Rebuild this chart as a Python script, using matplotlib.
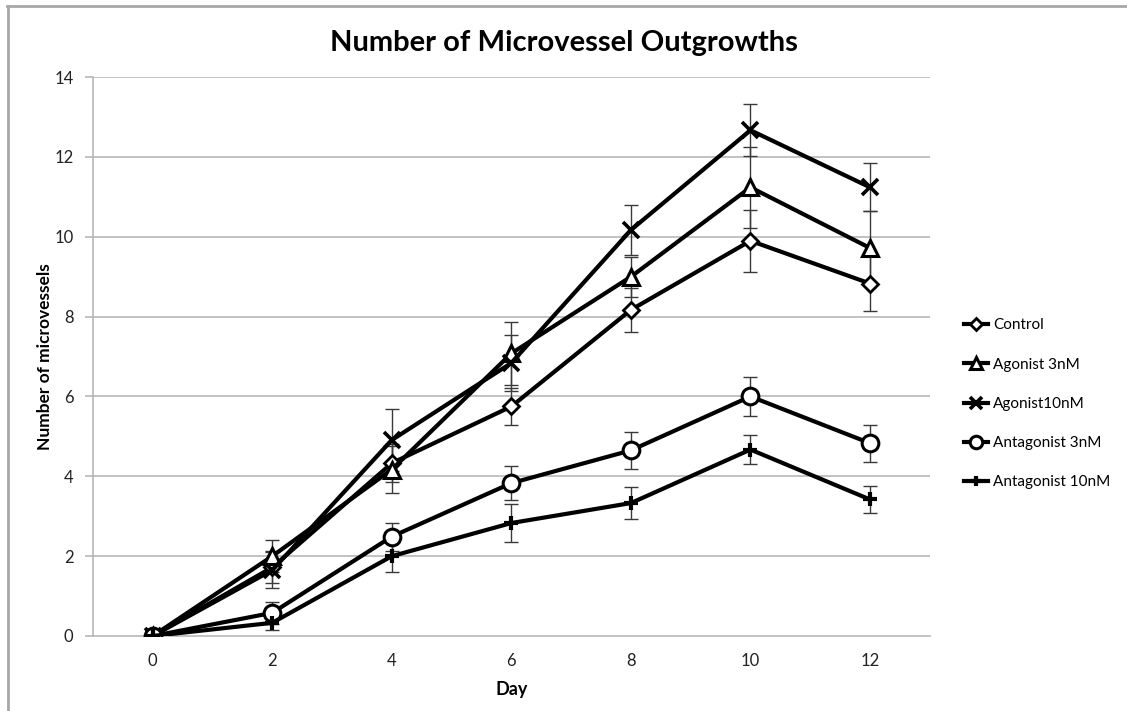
import matplotlib
matplotlib.use('Agg')
import matplotlib.pyplot as plt
from matplotlib.lines import Line2D
import numpy as np

plt.rcParams['font.family'] = ['Lato', 'DejaVu Sans']

days = [0, 2, 4, 6, 8, 10, 12]

control = [0, 1.72, 4.33, 5.75, 8.17, 9.90, 8.83]
control_err = [0, 0.40, 0.47, 0.46, 0.56, 0.77, 0.70]

agonist_3 = [0, 2.00, 4.17, 7.08, 9.00, 11.24, 9.72]
agonist_3_err = [0, 0.40, 0.58, 0.78, 0.50, 1.02, 0.92]

agonist_10 = [0, 1.65, 4.91, 6.84, 10.17, 12.67, 11.24]
agonist_10_err = [0, 0.45, 0.78, 0.70, 0.62, 0.65, 0.60]

antagonist_3 = [0, 0.58, 2.49, 3.83, 4.65, 6.00, 4.83]
antagonist_3_err = [0, 0.27, 0.35, 0.43, 0.47, 0.50, 0.46]

antagonist_10 = [0, 0.33, 2.00, 2.83, 3.33, 4.67, 3.42]
antagonist_10_err = [0, 0.18, 0.40, 0.47, 0.41, 0.36, 0.33]

series = [
    ('Control', control, control_err, 'D', 8, 2.0),
    ('Agonist 3nM', agonist_3, agonist_3_err, '^', 12, 2.2),
    ('Agonist10nM', agonist_10, agonist_10_err, 'x', 11, 2.6),
    ('Antagonist 3nM', antagonist_3, antagonist_3_err, 'o', 12, 2.2),
    ('Antagonist 10nM', antagonist_10, antagonist_10_err, '+', 10, 3.0),
]

fig = plt.figure(figsize=(11.27, 7.11), dpi=100)
ax = fig.add_axes([0.0825, 0.1055, 0.7425, 0.786])

grid_col = '#b8b8b8'
for y in range(2, 15, 2):
    ax.axhline(y, color=grid_col, lw=1.2, zorder=0)

handles = []
for name, vals, err, mk, ms, mew in series:
    ax.errorbar(days, vals, yerr=err, fmt='none', ecolor='#3a3a3a',
                elinewidth=1.0, capsize=5, capthick=1.0, zorder=2)
    line, = ax.plot(days, vals, color='black', lw=3.0, marker=mk,
                    markersize=ms, markerfacecolor='white',
                    markeredgecolor='black', markeredgewidth=mew,
                    label=name, zorder=3)
    handles.append(line)

ax.set_xlim(-1, 13)
ax.set_ylim(0, 14)
ax.set_xticks(days)
ax.set_yticks(range(0, 15, 2))
ax.tick_params(axis='x', length=0, pad=12, labelsize=12, colors='#222222')
ax.tick_params(axis='y', length=6, width=1.2, color=grid_col, pad=8,
               labelsize=12, labelcolor='#222222')
for side in ['top', 'right']:
    ax.spines[side].set_visible(False)
ax.spines['left'].set_color(grid_col)
ax.spines['left'].set_linewidth(1.2)
ax.spines['bottom'].set_color(grid_col)
ax.spines['bottom'].set_linewidth(1.2)

ax.set_xlabel('Day', fontsize=13, fontweight='bold', labelpad=9)
ax.set_ylabel('Number of microvessels', fontsize=12.5, fontweight='bold')
ax.yaxis.set_label_coords(-0.048, 0.5)
fig.text(0.5, 0.94, 'Number of Microvessel Outgrowths', ha='center',
         va='center', fontsize=21, fontweight='bold')

leg = fig.legend(handles=handles, loc='center left', bbox_to_anchor=(0.843, 0.432),
                 frameon=False, fontsize=11, handlelength=1.6, handletextpad=0.3,
                 labelspacing=1.65, markerscale=0.75)

# outer chart frame
fig.add_artist(Line2D([0.006, 1.0], [0.992, 0.992], color='#a8a8a8', lw=2,
                      transform=fig.transFigure))
fig.add_artist(Line2D([0.007, 0.007], [0.0, 0.992], color='#a8a8a8', lw=2,
                      transform=fig.transFigure))

fig.savefig('out.png', dpi=100)
